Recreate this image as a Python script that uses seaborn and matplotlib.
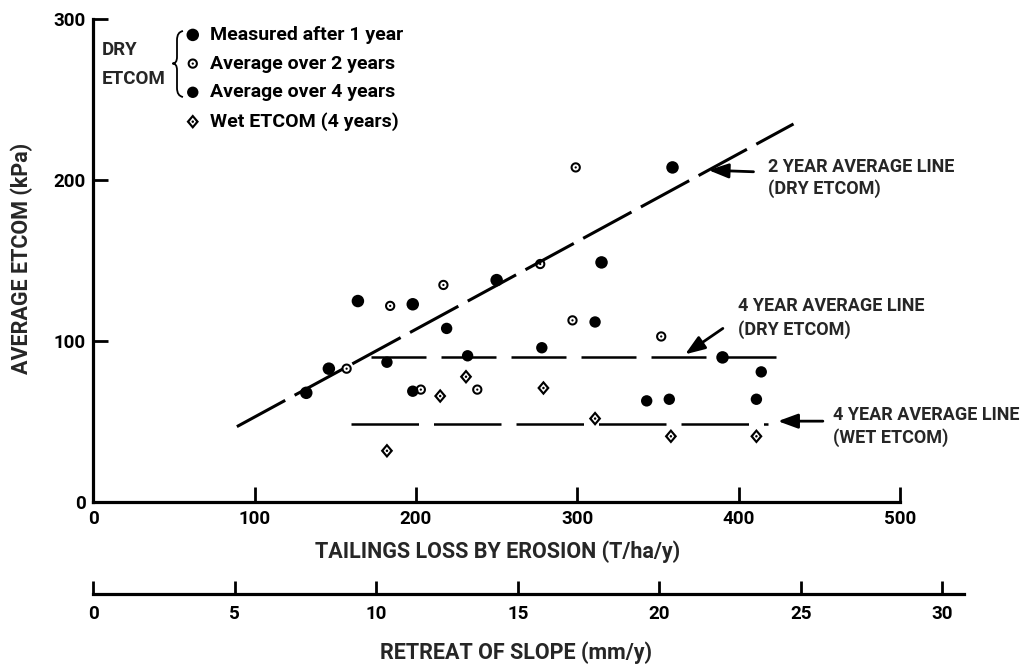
import numpy as np
import matplotlib
matplotlib.use("Agg")
import matplotlib.pyplot as plt
import matplotlib.transforms as mtransforms
from matplotlib.path import Path
from matplotlib.patches import PathPatch
import seaborn as sns

# ---------------- data ----------------
meas1_x = [132, 146, 164, 198, 250, 315, 359, 390]
meas1_y = [68, 83, 125, 123, 138, 149, 208, 90]

avg2_x = [157, 184, 203, 217, 238, 277, 297, 299, 352]
avg2_y = [83, 122, 70, 135, 70, 148, 113, 208, 103]

avg4_x = [182, 198, 219, 232, 278, 311, 343, 357, 411, 414]
avg4_y = [87, 69, 108, 91, 96, 112, 63, 64, 64, 81]

wet_x = [182, 215, 231, 279, 311, 358, 411]
wet_y = [32, 66, 78, 71, 52, 41, 41]

line2_x = [89, 434]
line2_y = [47, 235]
line4dry_x = [172, 430]
line4dry_y = [90, 90]
line4wet_x = [160, 418]
line4wet_y = [48.5, 48.5]

x_ticks = [0, 100, 200, 300, 400, 500]
y_ticks = [0, 100, 200, 300]
retreat_ticks = [0, 5, 10, 15, 20, 25, 30]

legend_labels = ["Measured after 1 year", "Average over 2 years",
                 "Average over 4 years", "Wet ETCOM (4 years)"]

# ---------------- style ----------------
sns.set_theme(style="white")
plt.rcParams["font.family"] = ["Roboto", "DejaVu Sans"]
plt.rcParams["font.weight"] = "bold"
plt.rcParams["axes.labelweight"] = "bold"

W, H = 1021, 665
fig = plt.figure(figsize=(W / 100, H / 100), dpi=100)
fig.patch.set_facecolor("white")
# transform from reference pixel coords (y down) to display
T = mtransforms.Affine2D().scale(1 / 100, -1 / 100).translate(0, H / 100) + fig.dpi_scale_trans

x0, x500 = 93.3, 900.0
y0, y300 = 502.3, 19.3
ax = fig.add_axes([x0 / W, (H - y0) / H, (x500 - x0) / W, (y0 - y300) / H])
ax.set_facecolor("white")


def ring_marker():
    t = np.linspace(0, 2 * np.pi, 60)
    outer = np.column_stack([np.cos(t), np.sin(t)])
    inner = np.column_stack([0.6 * np.cos(t[::-1]), 0.6 * np.sin(t[::-1])])
    dot = np.column_stack([0.22 * np.cos(t), 0.22 * np.sin(t)])
    verts, codes = [], []
    for poly in (outer, inner, dot):
        verts += list(poly) + [poly[0]]
        codes += [Path.MOVETO] + [Path.LINETO] * (len(poly) - 1) + [Path.CLOSEPOLY]
    return Path(np.array(verts), codes)


def diamond_marker():
    outer = np.array([[0.85, 0], [0, 1], [-0.85, 0], [0, -1]])
    inner = np.array([[0.45, 0], [0, -0.55], [-0.45, 0], [0, 0.55]])
    t = np.linspace(0, 2 * np.pi, 40)
    dot = np.column_stack([0.17 * np.cos(t), 0.17 * np.sin(t)])
    verts, codes = [], []
    for poly in (outer, inner, dot):
        verts += list(poly) + [poly[0]]
        codes += [Path.MOVETO] + [Path.LINETO] * (len(poly) - 1) + [Path.CLOSEPOLY]
    return Path(np.array(verts), codes)


# ---------------- lines ----------------
sns.lineplot(x=line2_x, y=line2_y, ax=ax, color="black", linewidth=2.2,
             linestyle=(0, (18, 3.5)), dash_capstyle="butt")
sns.lineplot(x=line4dry_x, y=line4dry_y, ax=ax, color="black", linewidth=1.8,
             linestyle=(0, (22, 6)), dash_capstyle="butt")
sns.lineplot(x=line4wet_x, y=line4wet_y, ax=ax, color="black", linewidth=1.8,
             linestyle=(0, (27, 6)), dash_capstyle="butt")

# ---------------- points ----------------
sns.scatterplot(x=meas1_x, y=meas1_y, ax=ax, marker="o", s=9.0 ** 2,
                color="black", edgecolor="none", label=legend_labels[0], zorder=5)
sns.scatterplot(x=avg2_x, y=avg2_y, ax=ax, marker=ring_marker(), s=7.4 ** 2,
                color="black", edgecolor="none", label=legend_labels[1], zorder=5)
sns.scatterplot(x=avg4_x, y=avg4_y, ax=ax, marker="o", s=8.2 ** 2,
                color="black", edgecolor="none", label=legend_labels[2], zorder=5)
sns.scatterplot(x=wet_x, y=wet_y, ax=ax, marker=diamond_marker(), s=10.5 ** 2,
                color="black", edgecolor="none", label=legend_labels[3], zorder=5)
for c in ax.collections:
    c.set_clip_on(False)

# ---------------- axes ----------------
ax.set_xlim(0, 500)
ax.set_ylim(0, 300)
ax.set_xticks(x_ticks)
ax.set_yticks(y_ticks)
ax.set_xticklabels([str(v) for v in x_ticks])
ax.set_yticklabels([str(v) for v in y_ticks])
for s in ["top", "right"]:
    ax.spines[s].set_visible(False)
for s in ["left", "bottom"]:
    ax.spines[s].set_linewidth(2.3)
    ax.spines[s].set_color("black")
ax.tick_params(axis="both", direction="in", length=11, width=2.0, color="black",
               labelsize=13.5, pad=5.5, labelcolor="black",
               bottom=True, left=True, top=False, right=False)
ax.set_xlabel("")
ax.set_ylabel("")

# secondary (retreat) axis drawn as its own scale
ax2_y = 594.3
px_per_mm = 28.3
ax2_right = 964
ax2 = fig.add_axes([x0 / W, (H - ax2_y) / H, (ax2_right - x0) / W, 0.0001])
ax2.set_xlim(0, (ax2_right - x0) / px_per_mm)
ax2.set_xticks(retreat_ticks)
ax2.set_xticklabels([str(v) for v in retreat_ticks])
ax2.set_yticks([])
for s in ["top", "right", "left"]:
    ax2.spines[s].set_visible(False)
ax2.spines["bottom"].set_linewidth(2.3)
ax2.spines["bottom"].set_color("black")
ax2.tick_params(axis="x", direction="in", length=9.5, width=2.0, color="black",
                labelsize=13.5, pad=8, labelcolor="black", bottom=True, top=False)
ax2.patch.set_visible(False)

# axis titles
fig.text(498, 552, "TAILINGS LOSS BY EROSION (T/ha/y)", transform=T,
         ha="center", va="center", fontsize=15.5)
fig.text(515.5, 653, "RETREAT OF SLOPE (mm/y)", transform=T,
         ha="center", va="center", fontsize=15.5)
fig.text(22, 258, "AVERAGE ETCOM (kPa)", transform=T, rotation=90,
         ha="center", va="center", fontsize=15.5)

# ---------------- legend ----------------
leg = ax.legend(loc="upper left", bbox_to_anchor=(184.5, 26), bbox_transform=T,
                frameon=False, fontsize=14, handlelength=0.85, handletextpad=0.45,
                labelspacing=0.55, borderpad=0, borderaxespad=0)
for t in leg.get_texts():
    t.set_color("black")

fig.text(102, 50, "DRY", transform=T, ha="left", va="center", fontsize=13.5)
fig.text(102, 78.5, "ETCOM", transform=T, ha="left", va="center", fontsize=13.5)
brace = Path([(183, 31), (177, 32), (177, 40), (177, 57), (177, 63.5), (172.5, 63.5),
              (177, 63.5), (177, 70), (177, 88), (177, 96), (183, 97)],
             [Path.MOVETO, Path.CURVE3, Path.CURVE3, Path.LINETO, Path.CURVE3, Path.CURVE3,
              Path.CURVE3, Path.CURVE3, Path.LINETO, Path.CURVE3, Path.CURVE3])
fig.patches.append(PathPatch(brace, transform=T, fill=False, edgecolor="black", lw=1.3))

# ---------------- annotations ----------------
arrow_kw = dict(arrowstyle="-|>,head_length=0.6,head_width=0.22", color="black",
                lw=2.0, shrinkA=0, shrinkB=0, mutation_scale=20)
ax.annotate("", xy=(381.3, 206.3), xytext=(409.2, 205.3), arrowprops=arrow_kw)
ax.annotate("", xy=(366.8, 91.9), xytext=(390.2, 108.0), arrowprops=arrow_kw)
ax.annotate("", xy=(424.3, 50.4), xytext=(452.2, 50.4), arrowprops=arrow_kw,
            annotation_clip=False)

fig.text(768, 166.5, "2 YEAR AVERAGE LINE", transform=T, ha="left", va="center", fontsize=13)
fig.text(768, 189, "(DRY ETCOM)", transform=T, ha="left", va="center", fontsize=13)
fig.text(738, 306, "4 YEAR AVERAGE LINE", transform=T, ha="left", va="center", fontsize=13)
fig.text(738, 330, "(DRY ETCOM)", transform=T, ha="left", va="center", fontsize=13)
fig.text(833, 414.5, "4 YEAR AVERAGE LINE", transform=T, ha="left", va="center", fontsize=13)
fig.text(833, 437.5, "(WET ETCOM)", transform=T, ha="left", va="center", fontsize=13)

fig.savefig("out.png", dpi=100, facecolor="white")
